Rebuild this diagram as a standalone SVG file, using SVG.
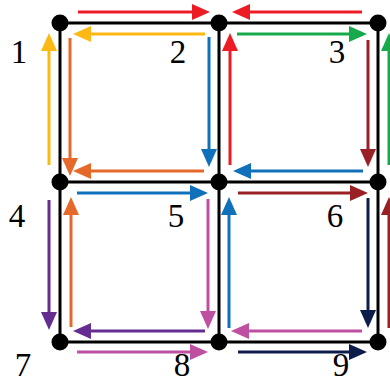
<svg xmlns="http://www.w3.org/2000/svg" width="390" height="382" viewBox="0 0 390 382">
<style>
.grid{stroke:#000;stroke-width:3;fill:none}
.node{fill:#000}
.a{stroke-width:3;fill:none}
.lbl{font-family:"Liberation Serif","Times New Roman",serif;font-size:33px;fill:#000;text-anchor:middle}
.red{stroke:#ED1C24;marker-end:url(#mRed)}
.yel{stroke:#FDB913;marker-end:url(#mYel)}
.ora{stroke:#E5692A;marker-end:url(#mOra)}
.blu{stroke:#1170BA;marker-end:url(#mBlu)}
.grn{stroke:#16AA4D;marker-end:url(#mGrn)}
.drd{stroke:#992024;marker-end:url(#mDrd)}
.pur{stroke:#662D91;marker-end:url(#mPur)}
.pnk{stroke:#BF4FA0;marker-end:url(#mPnk)}
.nav{stroke:#0D1D4B;marker-end:url(#mNav)}
</style>
<defs>
<marker id="mRed" markerUnits="userSpaceOnUse" markerWidth="18" markerHeight="16" refX="6" refY="8" orient="auto"><path d="M0,0 L18,8 L0,16 z" fill="#ED1C24"/></marker>
<marker id="mYel" markerUnits="userSpaceOnUse" markerWidth="18" markerHeight="16" refX="6" refY="8" orient="auto"><path d="M0,0 L18,8 L0,16 z" fill="#FDB913"/></marker>
<marker id="mOra" markerUnits="userSpaceOnUse" markerWidth="18" markerHeight="16" refX="6" refY="8" orient="auto"><path d="M0,0 L18,8 L0,16 z" fill="#E5692A"/></marker>
<marker id="mBlu" markerUnits="userSpaceOnUse" markerWidth="18" markerHeight="16" refX="6" refY="8" orient="auto"><path d="M0,0 L18,8 L0,16 z" fill="#1170BA"/></marker>
<marker id="mGrn" markerUnits="userSpaceOnUse" markerWidth="18" markerHeight="16" refX="6" refY="8" orient="auto"><path d="M0,0 L18,8 L0,16 z" fill="#16AA4D"/></marker>
<marker id="mDrd" markerUnits="userSpaceOnUse" markerWidth="18" markerHeight="16" refX="6" refY="8" orient="auto"><path d="M0,0 L18,8 L0,16 z" fill="#992024"/></marker>
<marker id="mPur" markerUnits="userSpaceOnUse" markerWidth="18" markerHeight="16" refX="6" refY="8" orient="auto"><path d="M0,0 L18,8 L0,16 z" fill="#662D91"/></marker>
<marker id="mPnk" markerUnits="userSpaceOnUse" markerWidth="18" markerHeight="16" refX="6" refY="8" orient="auto"><path d="M0,0 L18,8 L0,16 z" fill="#BF4FA0"/></marker>
<marker id="mNav" markerUnits="userSpaceOnUse" markerWidth="18" markerHeight="16" refX="6" refY="8" orient="auto"><path d="M0,0 L18,8 L0,16 z" fill="#0D1D4B"/></marker>
</defs>
<rect width="390" height="382" fill="#fff"/>
<g id="grid">
<path class="grid" d="M60,23 H378 M60,182 H378 M60,342 H378 M60,23 V342 M219,23 V342 M378,23 V342"/>
</g>
<g id="connectors">
<line class="a red" x1="78" y1="12" x2="198" y2="12"/>
<line class="a red" x1="362" y1="12" x2="244" y2="12"/>
<line class="a yel" x1="205" y1="34" x2="85" y2="34"/>
<line class="a yel" x1="49" y1="165" x2="49" y2="45"/>
<line class="a ora" x1="70" y1="38" x2="70" y2="164"/>
<line class="a ora" x1="204" y1="171" x2="85" y2="171"/>
<line class="a blu" x1="209" y1="37" x2="209" y2="155"/>
<line class="a blu" x1="363" y1="171" x2="245" y2="171"/>
<line class="a red" x1="230" y1="165" x2="230" y2="45"/>
<line class="a grn" x1="237" y1="34" x2="355" y2="34"/>
<line class="a grn" x1="389" y1="165" x2="389" y2="45"/>
<line class="a drd" x1="368" y1="40" x2="368" y2="155"/>
<line class="a blu" x1="77" y1="193" x2="196" y2="193"/>
<line class="a drd" x1="238" y1="193" x2="356" y2="193"/>
<line class="a drd" x1="389" y1="328" x2="389" y2="209"/>
<line class="a pur" x1="49" y1="200" x2="49" y2="318"/>
<line class="a ora" x1="71" y1="327" x2="71" y2="209"/>
<line class="a pur" x1="205" y1="331" x2="85" y2="331"/>
<line class="a pnk" x1="208" y1="199" x2="208" y2="317"/>
<line class="a blu" x1="229" y1="328" x2="229" y2="209"/>
<line class="a nav" x1="368" y1="198" x2="368" y2="316"/>
<line class="a pnk" x1="362" y1="331" x2="243" y2="331"/>
<line class="a pnk" x1="77" y1="352" x2="196" y2="352"/>
<line class="a nav" x1="238" y1="352" x2="355" y2="352"/>
</g>
<g id="n1"><circle class="node" cx="60" cy="23" r="8.5"/><text class="lbl" x="19" y="63">1</text></g>
<g id="n2"><circle class="node" cx="219" cy="23" r="8.5"/><text class="lbl" x="178" y="63">2</text></g>
<g id="n3"><circle class="node" cx="378" cy="23" r="8.5"/><text class="lbl" x="337" y="63">3</text></g>
<g id="n4"><circle class="node" cx="60" cy="182" r="8.5"/><text class="lbl" x="17" y="227">4</text></g>
<g id="n5"><circle class="node" cx="219" cy="182" r="8.5"/><text class="lbl" x="176" y="227">5</text></g>
<g id="n6"><circle class="node" cx="378" cy="182" r="8.5"/><text class="lbl" x="335" y="227">6</text></g>
<g id="n7"><circle class="node" cx="60" cy="342" r="8.5"/><text class="lbl" x="23" y="376">7</text></g>
<g id="n8"><circle class="node" cx="219" cy="342" r="8.5"/><text class="lbl" x="182" y="376">8</text></g>
<g id="n9"><circle class="node" cx="378" cy="342" r="8.5"/><text class="lbl" x="341" y="376">9</text></g>
</svg>
